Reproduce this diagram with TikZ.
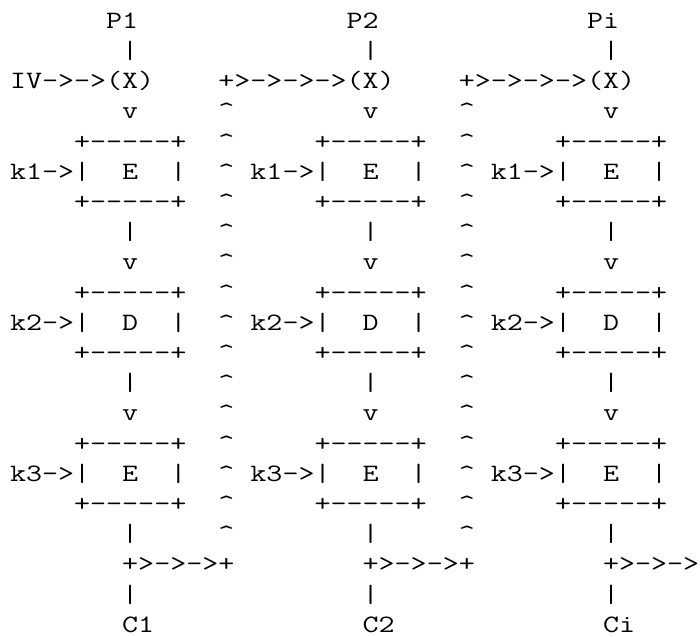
\documentclass[tikz,border=0pt]{standalone}
\usepackage{fontspec}
\def\crt{\textasciicircum}
\def\ascbox{~~~~+-----+~~\crt~~~~~+-----+~~\crt~~~~~+-----+}
\def\ascv{~~~~~~~v~~~~~\crt~~~~~~~~v~~~~~\crt~~~~~~~~v}
\def\ascbar{~~~~~~~|~~~~~\crt~~~~~~~~|~~~~~\crt~~~~~~~~|}
\begin{document}
\begin{tikzpicture}[x=1bp,y=1bp,
  asc/.style={anchor=base west, inner sep=0pt, outer sep=0pt,
    xscale=1.245, transform shape,
    font=\ttfamily\fontsize{25bp}{30bp}\selectfont}]
\useasboundingbox (0,0) rectangle (700,-637);
\node[asc] (l0)  at (10,-28.3)  {~~~~~~P1~~~~~~~~~~~~~P2~~~~~~~~~~~~~Pi};
\node[asc] (l1)  at (10,-58.5)  {~~~~~~~|~~~~~~~~~~~~~~|~~~~~~~~~~~~~~|};
\node[asc] (l2)  at (10,-88.7)  {IV->->(X)~~~~+>->->->(X)~~~~+>->->->(X)};
\node[asc] (l3)  at (10,-118.9) {\ascv};
\node[asc] (l4)  at (10,-149.1) {\ascbox};
\node[asc] (l5)  at (10,-179.3) {k1->|~~E~~|~~\crt~k1->|~~E~~|~~\crt~k1->|~~E~~|};
\node[asc] (l6)  at (10,-209.5) {\ascbox};
\node[asc] (l7)  at (10,-239.7) {\ascbar};
\node[asc] (l8)  at (10,-269.9) {\ascv};
\node[asc] (l9)  at (10,-300.1) {\ascbox};
\node[asc] (l10) at (10,-330.3) {k2->|~~D~~|~~\crt~k2->|~~D~~|~~\crt~k2->|~~D~~|};
\node[asc] (l11) at (10,-360.5) {\ascbox};
\node[asc] (l12) at (10,-390.7) {\ascbar};
\node[asc] (l13) at (10,-420.9) {\ascv};
\node[asc] (l14) at (10,-451.1) {\ascbox};
\node[asc] (l15) at (10,-481.3) {k3->|~~E~~|~~\crt~k3->|~~E~~|~~\crt~k3->|~~E~~|};
\node[asc] (l16) at (10,-511.5) {\ascbox};
\node[asc] (l17) at (10,-541.7) {\ascbar};
\node[asc] (l18) at (10,-571.9) {~~~~~~~+>->->+~~~~~~~~+>->->+~~~~~~~~+>->->};
\node[asc] (l19) at (10,-602.1) {~~~~~~~|~~~~~~~~~~~~~~|~~~~~~~~~~~~~~|};
\node[asc] (l20) at (10,-632.3) {~~~~~~~C1~~~~~~~~~~~~~C2~~~~~~~~~~~~~Ci};
\end{tikzpicture}
\end{document}
